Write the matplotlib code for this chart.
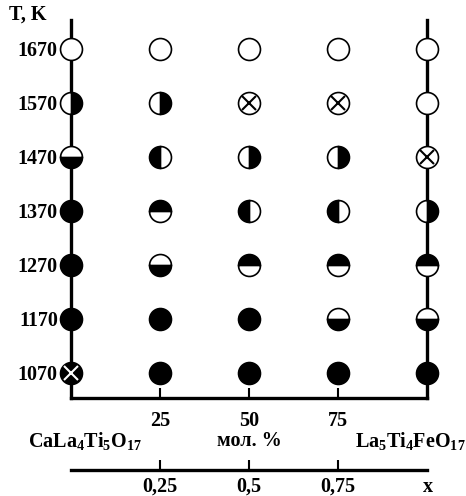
import matplotlib
matplotlib.use("Agg")
import matplotlib.pyplot as plt

plt.rcParams['font.family'] = ['Liberation Serif', 'DejaVu Serif']
plt.rcParams['font.weight'] = 'bold'
plt.rcParams['mathtext.fontset'] = 'custom'
plt.rcParams['mathtext.rm'] = 'Liberation Serif:bold'
plt.rcParams['mathtext.default'] = 'regular'

# ------------------------------------------------------------------
# data: composition (mol. %) x temperature -> phase-state symbol
# ------------------------------------------------------------------
compositions = [0, 25, 50, 75, 100]
temperatures = [1670, 1570, 1470, 1370, 1270, 1170, 1070]
# symbol codes: o=open, f=full, L/R/T/B = left/right/top/bottom half black,
# x=open crossed, X=black crossed
states = {
    0:   ['o', 'R', 'B', 'f', 'f', 'f', 'X'],
    25:  ['o', 'R', 'L', 'T', 'B', 'f', 'f'],
    50:  ['o', 'x', 'R', 'L', 'T', 'f', 'f'],
    75:  ['o', 'x', 'R', 'L', 'T', 'B', 'f'],
    100: ['o', 'o', 'x', 'R', 'T', 'B', 'f'],
}
mol_ticks = [25, 50, 75]
x_ticks = [0.25, 0.5, 0.75]
x_ticklabels = ['0,25', '0,5', '0,75']

W, H = 466, 496
fig = plt.figure(figsize=(W / 100, H / 100), dpi=100)
FS = 14.5

# axes placed in pixel units
x0, x1 = 71, 427
ytop, ybot = 20, 398
ax = fig.add_axes([x0 / W, 1 - ybot / H, (x1 - x0) / W, (ybot - ytop) / H])
kpp = 600 / 324.0
ax.set_xlim(0, 100)
ax.set_ylim(1070 - (ybot - 373) * kpp, 1670 + (49 - ytop) * kpp)

for s in ['left', 'right', 'bottom']:
    ax.spines[s].set_linewidth(2.4)
ax.spines['top'].set_visible(False)

ax.set_yticks(temperatures)
ax.set_yticklabels([str(t) for t in temperatures])
ax.tick_params(axis='y', length=0, pad=9.5, labelsize=FS)
ax.set_xticks(mol_ticks)
ax.tick_params(axis='x', direction='in', length=7, width=1.5, pad=9, labelsize=FS)

ms = 15.8
mew = 1.2
fills = {'L': 'left', 'R': 'right', 'T': 'top', 'B': 'bottom'}
for c in compositions:
    for t, code in zip(temperatures, states[c]):
        kw = dict(marker='o', ms=ms, mew=mew, mec='black', clip_on=False, zorder=4)
        if code == 'o':
            ax.plot(c, t, mfc='white', **kw)
        elif code == 'f':
            ax.plot(c, t, mfc='black', **kw)
        elif code in fills:
            ax.plot(c, t, fillstyle=fills[code], mfc='black',
                    markerfacecoloralt='white', **kw)
        elif code == 'x':
            ax.plot(c, t, mfc='white', **kw)
            ax.plot(c, t, marker='x', ms=ms * 0.62, mew=1.5, color='black',
                    clip_on=False, zorder=5)
        elif code == 'X':
            ax.plot(c, t, mfc='black', **kw)
            ax.plot(c, t, marker='x', ms=ms * 0.62, mew=1.5, color='white',
                    clip_on=False, zorder=5)

fig.text(9 / W, 1 - 15 / H, 'T, K', fontsize=FS, va='center', ha='left')

# compound labels and mol. %
fig.text(28 / W, 1 - 441 / H, r'CaLa$_4$Ti$_5$O$_{17}$', fontsize=FS, va='center', ha='left')
fig.text(249 / W, 1 - 441 / H, 'мол. %', fontsize=FS, va='center', ha='center')
fig.text(466 / W, 1 - 441 / H, r'La$_5$Ti$_4$FeO$_{17}$', fontsize=FS, va='center', ha='right')

# second scale: x
yline = 470
ax2 = fig.add_axes([x0 / W, 1 - yline / H, (x1 - x0) / W, 0.01])
ax2.set_xlim(0, 1)
ax2.patch.set_visible(False)
for s in ['left', 'right', 'top']:
    ax2.spines[s].set_visible(False)
ax2.spines['bottom'].set_linewidth(2.4)
ax2.set_yticks([])
ax2.set_xticks(x_ticks)
ax2.set_xticklabels(x_ticklabels)
ax2.tick_params(axis='x', direction='in', length=7, width=1.5, pad=5, labelsize=FS)
fig.text(428 / W, 1 - 487 / H, 'x', fontsize=FS, va='center', ha='center')

fig.savefig('out.png', dpi=100)
